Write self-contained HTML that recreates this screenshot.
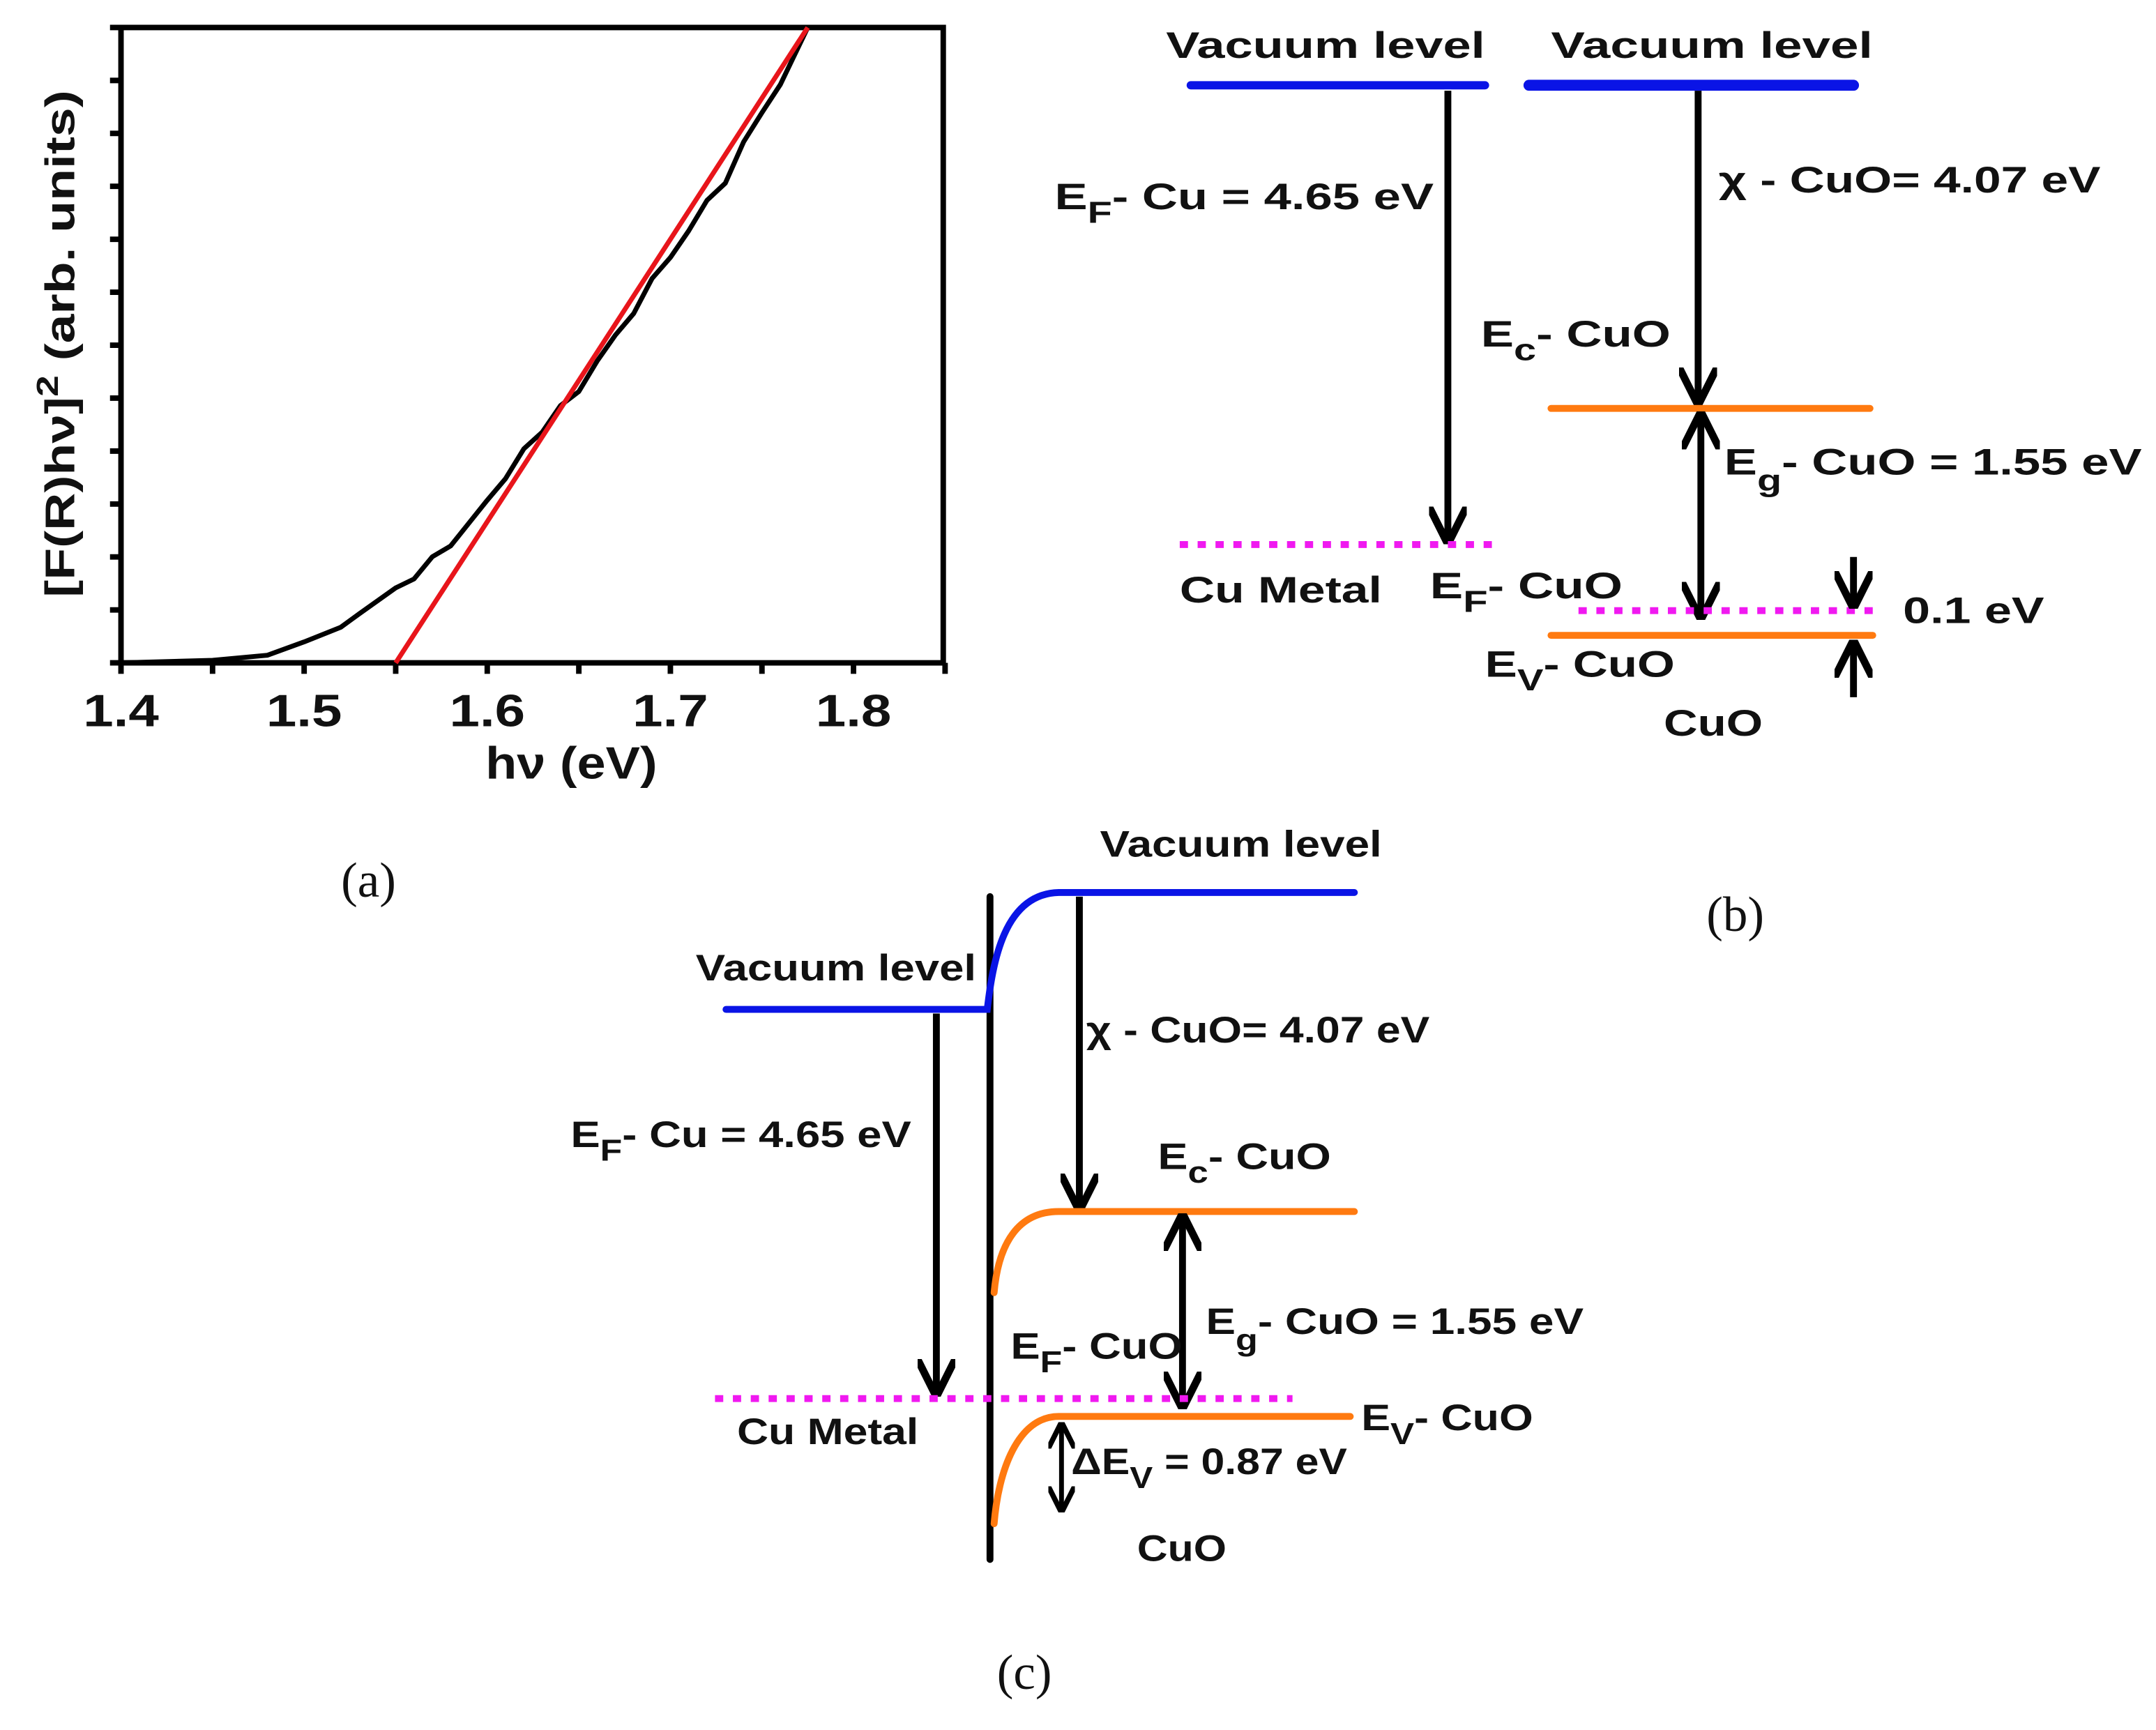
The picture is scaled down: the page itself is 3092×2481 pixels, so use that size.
<!DOCTYPE html>
<html><head><meta charset="utf-8"><style>
html,body{margin:0;padding:0;background:#fff;}
svg{display:block;}
text{font-family:"Liberation Sans",Arial,sans-serif;font-weight:bold;fill:#111;}
.serif{font-family:"Liberation Serif",serif;font-weight:normal;}
</style></head><body>
<svg id="fig" width="3092" height="2481" viewBox="0 0 1568 1258" preserveAspectRatio="none" xmlns="http://www.w3.org/2000/svg">
<defs>
<marker id="ah" viewBox="0 0 10 10" refX="9" refY="5" markerWidth="5.5" markerHeight="5.5" orient="auto-start-reverse" markerUnits="strokeWidth"><path d="M0,0 L10,5 L0,10" fill="none" stroke="#000" stroke-width="2"/></marker>
</defs>
<g id="panelA">
<rect x="88" y="20" width="598" height="462" fill="none" stroke="#000" stroke-width="4"/>
<g id="xticks"></g>
<g id="yticks"></g>
<polyline id="curve" fill="none" stroke="#000" stroke-width="3.5" stroke-linejoin="round"/>
<line id="fit" stroke="#e8151b" stroke-width="3.5"/>
<text x="408" y="566" font-size="33" text-anchor="middle" data-w="125">hν (eV)</text>
<text transform="translate(54,250) rotate(-90) scale(1.27,1)" font-size="30" text-anchor="middle">[F(R)hν]<tspan dy="-12" font-size="22">2</tspan><tspan dy="12"> (arb. units)</tspan></text>
<text class="serif" x="268" y="652" font-size="36" text-anchor="middle">(a)</text>
</g>

<g id="panelB">
<text x="848" y="42" font-size="27" data-w="232">Vacuum level</text>
<text x="1128" y="42" font-size="27" data-w="234">Vacuum level</text>
<line x1="866" y1="62" x2="1080" y2="62" stroke="#0a14e6" stroke-width="6" stroke-linecap="round"/>
<line x1="1112" y1="62" x2="1348" y2="62" stroke="#0a14e6" stroke-width="8" stroke-linecap="round"/>
<line x1="1053" y1="66" x2="1053" y2="393" stroke="#000" stroke-width="5" marker-end="url(#ah)"/>
<line x1="1235" y1="66" x2="1235" y2="292" stroke="#000" stroke-width="5" marker-end="url(#ah)"/>
<text x="767" y="152" font-size="27" data-w="276">E<tspan dy="10" font-size="22">F</tspan><tspan dy="-10">- Cu = 4.65 eV</tspan></text>
<text x="1250" y="140" font-size="27" data-w="278">χ - CuO= 4.07 eV</text>
<text x="1077" y="252" font-size="27" data-w="138">E<tspan dy="10" font-size="22">c</tspan><tspan dy="-10">- CuO</tspan></text>
<line x1="1128" y1="297" x2="1360" y2="297" stroke="#ff7a10" stroke-width="5" stroke-linecap="round"/>
<line x1="1237" y1="302" x2="1237" y2="448" stroke="#000" stroke-width="5" marker-start="url(#ah)" marker-end="url(#ah)"/>
<text x="1254" y="345" font-size="27" data-w="304">E<tspan dy="12" font-size="22">g</tspan><tspan dy="-12">- CuO = 1.55 eV</tspan></text>
<line x1="858" y1="396" x2="1090" y2="396" stroke="#f019f0" stroke-width="5" stroke-dasharray="6,7"/>
<text x="858" y="438" font-size="27" data-w="147">Cu Metal</text>
<text x="1040" y="435" font-size="27" data-w="140">E<tspan dy="10" font-size="22">F</tspan><tspan dy="-10">- CuO</tspan></text>
<line x1="1148" y1="444" x2="1362" y2="444" stroke="#f019f0" stroke-width="5" stroke-dasharray="6,7"/>
<line x1="1128" y1="462" x2="1362" y2="462" stroke="#ff7a10" stroke-width="5" stroke-linecap="round"/>
<line x1="1348" y1="405" x2="1348" y2="440" stroke="#000" stroke-width="5" marker-end="url(#ah)"/>
<line x1="1348" y1="507" x2="1348" y2="468" stroke="#000" stroke-width="5" marker-end="url(#ah)"/>
<text x="1384" y="453" font-size="27" data-w="103">0.1 eV</text>
<text x="1080" y="492" font-size="27" data-w="138">E<tspan dy="10" font-size="22">V</tspan><tspan dy="-10">- CuO</tspan></text>
<text x="1210" y="535" font-size="27" data-w="72">CuO</text>
<text class="serif" x="1262" y="677" font-size="36" text-anchor="middle">(b)</text>
</g>

<g id="panelC">
<text x="800" y="623" font-size="27" data-w="205">Vacuum level</text>
<text x="506" y="713" font-size="27" data-w="204">Vacuum level</text>
<line x1="720" y1="652" x2="720" y2="1134" stroke="#000" stroke-width="5" stroke-linecap="round"/>
<path d="M528,734 L718,734 C722,700 730,650 770,649 L985,649" fill="none" stroke="#0a14e6" stroke-width="5" stroke-linecap="round"/>
<line x1="681" y1="737" x2="681" y2="1013" stroke="#000" stroke-width="5" marker-end="url(#ah)"/>
<line x1="785" y1="652" x2="785" y2="878" stroke="#000" stroke-width="5" marker-end="url(#ah)"/>
<text x="790" y="758" font-size="27" data-w="250">χ - CuO= 4.07 eV</text>
<text x="415" y="834" font-size="27" data-w="248">E<tspan dy="10" font-size="22">F</tspan><tspan dy="-10">- Cu = 4.65 eV</tspan></text>
<text x="842" y="850" font-size="27" data-w="126">E<tspan dy="10" font-size="22">c</tspan><tspan dy="-10">- CuO</tspan></text>
<path d="M723,940 C726,905 740,881 770,881 L985,881" fill="none" stroke="#ff7a10" stroke-width="5" stroke-linecap="round"/>
<line x1="860" y1="885" x2="860" y2="1022" stroke="#000" stroke-width="5" marker-start="url(#ah)" marker-end="url(#ah)"/>
<text x="877" y="970" font-size="27" data-w="275">E<tspan dy="12" font-size="22">g</tspan><tspan dy="-12">- CuO = 1.55 eV</tspan></text>
<text x="735" y="988" font-size="27" data-w="125">E<tspan dy="10" font-size="22">F</tspan><tspan dy="-10">- CuO</tspan></text>
<line x1="520" y1="1017" x2="940" y2="1017" stroke="#f019f0" stroke-width="5" stroke-dasharray="6,7"/>
<text x="536" y="1050" font-size="27" data-w="132">Cu Metal</text>
<path d="M723,1108 C726,1070 740,1030 770,1030 L982,1030" fill="none" stroke="#ff7a10" stroke-width="5" stroke-linecap="round"/>
<text x="990" y="1040" font-size="27" data-w="125">E<tspan dy="10" font-size="22">V</tspan><tspan dy="-10">- CuO</tspan></text>
<line x1="772" y1="1036" x2="772" y2="1098" stroke="#000" stroke-width="3.5" marker-start="url(#ah)" marker-end="url(#ah)"/>
<text x="779" y="1072" font-size="27" data-w="201">ΔE<tspan dy="10" font-size="22">V</tspan><tspan dy="-10"> = 0.87 eV</tspan></text>
<text x="827" y="1135" font-size="27" data-w="65">CuO</text>
<text class="serif" x="745" y="1228" font-size="36" text-anchor="middle">(c)</text>
</g>
</svg>
<script>
const energies = [1.40,1.45,1.48,1.50,1.52,1.53,1.55,1.56,1.57,1.58,1.59,1.60,1.61,1.62,1.63,1.64,1.65,1.66,1.67,1.68,1.69,1.70,1.71,1.72,1.73,1.74,1.75,1.76,1.775];
const intensity = [0,0.4,1.2,3.3,5.6,7.7,11.8,13.2,16.7,18.4,22.0,25.6,29.0,33.7,36.3,40.5,42.7,47.5,51.6,55.0,60.5,63.8,68.0,72.8,75.5,82.0,86.6,91.0,100];
const fitX = [1.55,1.775];
const fitY = [0,100];
const xTickLabels = ["1.4","1.5","1.6","1.7","1.8"];
const xTickValues = [1.4,1.5,1.6,1.7,1.8];
const xMin=1.4,xMax=1.849,yMin=0,yMax=100;
const L=88,R=686,T=20,B=482;
function sx(v){return L+(v-xMin)/(xMax-xMin)*(R-L);}
function sy(v){return B-(v-yMin)/(yMax-yMin)*(B-T);}
const NS="http://www.w3.org/2000/svg";
document.getElementById('curve').setAttribute('points',energies.map((e,i)=>sx(e)+','+sy(intensity[i])).join(' '));
const f=document.getElementById('fit');
f.setAttribute('x1',sx(fitX[0]));f.setAttribute('y1',sy(fitY[0]));
f.setAttribute('x2',sx(fitX[1]));f.setAttribute('y2',sy(fitY[1]));
const xg=document.getElementById('xticks');
for(let v=1.4;v<1.851;v+=0.05){
  const x=sx(v);const ln=document.createElementNS(NS,'line');
  ln.setAttribute('x1',x);ln.setAttribute('x2',x);ln.setAttribute('y1',B);ln.setAttribute('y2',B+8);
  ln.setAttribute('stroke','#000');ln.setAttribute('stroke-width','4');
  
  
  xg.appendChild(ln);
}
xTickValues.forEach((v,i)=>{
  const t=document.createElementNS(NS,'text');
  t.setAttribute('x',sx(v));t.setAttribute('y',528);t.setAttribute('font-size','33');t.setAttribute('text-anchor','middle');
  t.setAttribute('transform','translate('+sx(v)+',0) scale(1.2,1) translate('+(-sx(v))+',0)');
  t.textContent=xTickLabels[i];
  
  
  xg.appendChild(t);
});
const yg=document.getElementById('yticks');
for(let k=0;k<=12;k++){
  const y=B-k*(B-T)/12;const ln=document.createElementNS(NS,'line');
  ln.setAttribute('x1',L-8);ln.setAttribute('x2',L);ln.setAttribute('y1',y);ln.setAttribute('y2',y);
  ln.setAttribute('stroke','#000');ln.setAttribute('stroke-width','4');
  
  
  yg.appendChild(ln);
}
document.querySelectorAll('text[data-w]').forEach(t=>{
  const b=t.getBBox();const w=parseFloat(t.getAttribute('data-w'));
  if(b.width>0){const s=w/b.width;const x0=b.x;
    t.setAttribute('transform','translate('+x0+',0) scale('+s+',1) translate('+(-x0)+',0)');}
});
</script>
</body></html>
